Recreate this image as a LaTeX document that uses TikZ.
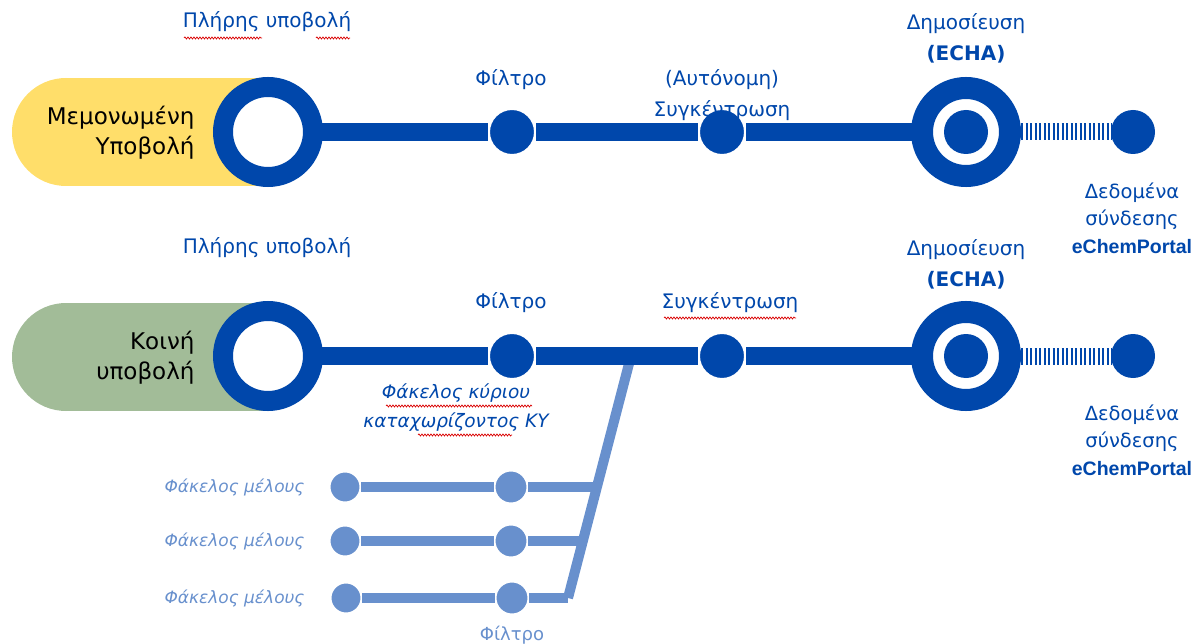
\documentclass[tikz,border=0pt]{standalone}
\usepackage{fontspec}
\setmainfont{DejaVu Sans}
\newfontfamily\portalfont{Liberation Sans}
\usetikzlibrary{calc,decorations.pathmorphing}
\definecolor{dblue}{HTML}{0047AB}
\definecolor{lblue}{HTML}{6890CD}
\definecolor{pillyellow}{HTML}{FFDE6A}
\definecolor{pillgreen}{HTML}{A2BC98}
\begin{document}
\begin{tikzpicture}[x=1pt,y=-1pt,
  ring/.style={circle,draw=dblue,line width=20pt,fill=white,minimum size=90pt,inner sep=0pt,outer sep=0pt},
  pubring/.style={circle,draw=dblue,line width=22pt,fill=white,minimum size=88pt,inner sep=0pt,outer sep=0pt},
  stopdot/.style={circle,fill=dblue,draw=white,line width=4pt,minimum size=48pt,inner sep=0pt,outer sep=0pt},
  enddot/.style={circle,fill=dblue,minimum size=44pt,inner sep=0pt,outer sep=0pt},
  memdot/.style={circle,fill=lblue,draw=white,line width=3pt,minimum size=32pt,inner sep=0pt,outer sep=0pt},
  mainline/.style={draw=dblue,line width=18pt},
  hatch/.style={draw=dblue,line width=17pt,dash pattern=on 2.2pt off 2.3pt},
  memline/.style={draw=lblue,line width=10pt,line join=round},
  lab/.style={text=dblue,align=center,font=\fontsize{20}{31}\selectfont},
  blk/.style={text=black,align=right,anchor=east,font=\fontsize{23}{30}\selectfont},
  memlab/.style={text=lblue,font=\itshape\fontsize{17}{20}\selectfont,anchor=east},
  spell/.style={draw=red!85!black,line width=0.7pt,decorate,decoration={snake,amplitude=1pt,segment length=3pt}}
]
\useasboundingbox (0,0) rectangle (1204,644);

% ---------- row 1 ----------
\fill[pillyellow] (66,132) circle (54pt);
\fill[pillyellow] (66,78) rectangle (268,186);
\coordinate (h1s) at (1021,132);
\coordinate (h1e) at (1112,132);
\draw[hatch] (h1s) -- (h1e);
\node[ring] (r1) at (268,132) {};
\node[stopdot] (f1) at (512,132) {};
\node[stopdot] (c1) at (722,132) {};
\node[pubring] (p1) at (966,132) {};
\node[enddot] (pi1) at (966,132) {};
\node[enddot] (e1) at (1133,132) {};
\draw[mainline] (r1) -- (f1);
\draw[mainline] (f1) -- (c1);
\draw[mainline] (c1) -- (p1);

\node[blk] (t1) at (198,133) {Μεμονωμένη\\Υποβολή};
\node[lab] (l1a) at (267,22) {Πλήρης υποβολή};
\node[lab] (l1b) at (511,80) {Φίλτρο};
\node[lab] (l1c) at (722,95) {(Αυτόνομη)\\Συγκέντρωση};
\node[lab] (l1d) at (966,38) {Δημοσίευση\\\textbf{(ECHA)}};
\node[lab,font=\fontsize{19.5}{27.5}\selectfont] (l1e) at (1132,218) {Δεδομένα\\σύνδεσης\\{\portalfont\bfseries eChemPortal}};

% ---------- row 2 ----------
\fill[pillgreen] (66,357) circle (54pt);
\fill[pillgreen] (66,303) rectangle (268,411);
\coordinate (h2s) at (1021,356);
\coordinate (h2e) at (1112,356);
\draw[hatch] (h2s) -- (h2e);

% member branch
\coordinate (b0) at (631,356);
\coordinate (b3) at (568,598);
\coordinate (j1) at ($(b0)!0.541!(b3)$);
\coordinate (j2) at ($(b0)!0.764!(b3)$);
\draw[memline] (b0) -- (b3);
\node[memdot] (m1) at (345,487) {};
\node[memdot] (m2) at (345,541) {};
\node[memdot] (m3) at (346,598) {};
\node[memdot,minimum size=34pt] (mf1) at (511,487) {};
\node[memdot,minimum size=34pt] (mf2) at (511,541) {};
\node[memdot,minimum size=34pt] (mf3) at (512,598) {};
\draw[memline] (m1) -- (mf1);
\draw[memline] (m2) -- (mf2);
\draw[memline] (m3) -- (mf3);
\draw[memline] (mf1) -- (mf1 -| j1);
\draw[memline] (mf2) -- (mf2 -| j2);
\draw[memline] (mf3) -- (mf3 -| b3) -- (b3);

\node[ring] (r2) at (268,356) {};
\node[stopdot] (f2) at (512,356) {};
\node[stopdot] (c2) at (722,356) {};
\node[pubring] (p2) at (966,356) {};
\node[enddot] (pi2) at (966,356) {};
\node[enddot] (e2) at (1133,356) {};
\draw[mainline] (r2) -- (f2);
\draw[mainline] (f2) -- (c2);
\draw[mainline] (c2) -- (p2);

\node[blk] (t2) at (198,358) {Κοινή\\υποβολή};
\node[lab] (l2a) at (267,248) {Πλήρης υποβολή};
\node[lab] (l2b) at (511,303) {Φίλτρο};
\node[lab] (l2c) at (730,303) {Συγκέντρωση};
\node[lab] (l2d) at (966,264) {Δημοσίευση\\\textbf{(ECHA)}};
\node[lab,font=\fontsize{19.5}{27.5}\selectfont] (l2e) at (1132,440) {Δεδομένα\\σύνδεσης\\{\portalfont\bfseries eChemPortal}};
\node[lab,font=\itshape\fontsize{18.5}{29}\selectfont] (l2f) at (456,408) {Φάκελος κύριου\\καταχωρίζοντος ΚΥ};

\node[memlab] (ml1) at (308,487) {Φάκελος μέλους};
\node[memlab] (ml2) at (308,541) {Φάκελος μέλους};
\node[memlab] (ml3) at (308,598) {Φάκελος μέλους};
\node[text=lblue,font=\fontsize{18}{20}\selectfont] (mfl) at (512,635) {Φίλτρο};

% spell-check squiggles
\draw[spell] (184,38) -- (262,38);
\draw[spell] (316,38) -- (350,38);
\draw[spell] (664,318) -- (796,318);
\draw[spell] (386,406) -- (532,406);
\draw[spell] (418,435) -- (512,435);
\end{tikzpicture}
\end{document}
